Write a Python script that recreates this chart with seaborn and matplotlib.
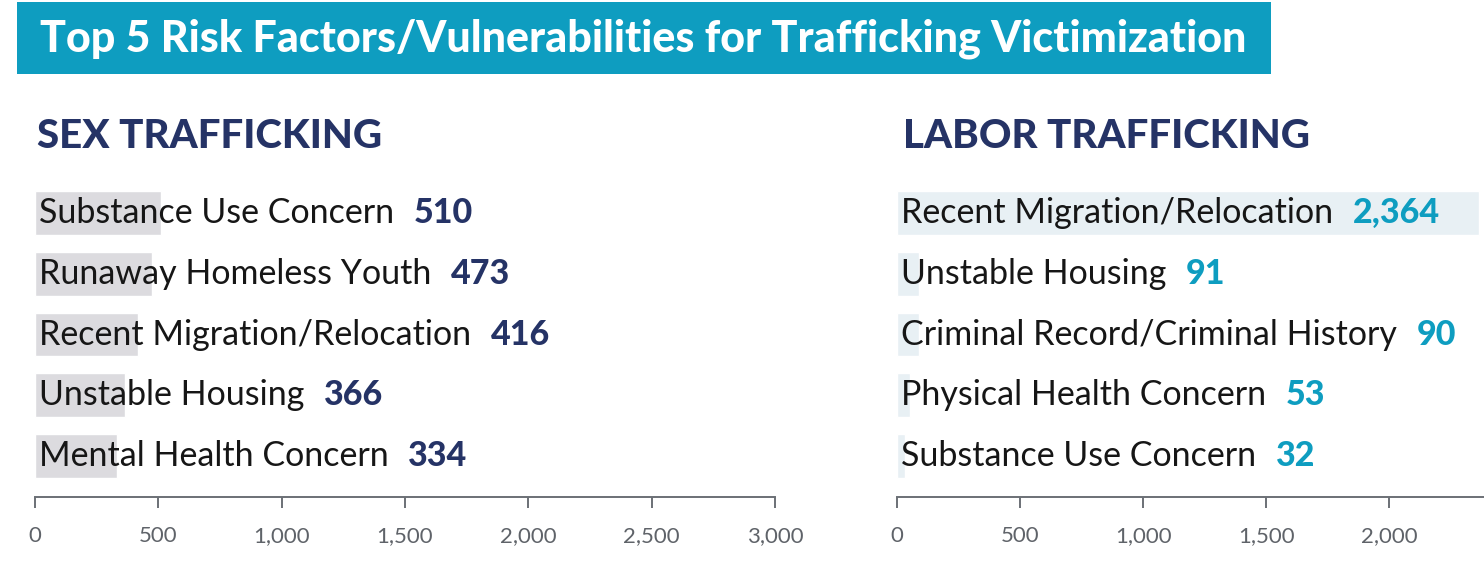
import matplotlib
matplotlib.use("Agg")
import matplotlib.pyplot as plt
import matplotlib.ticker as mticker
from matplotlib.patches import Rectangle
import seaborn as sns
import pandas as pd

# data
sex_factors = ["Substance Use Concern", "Runaway Homeless Youth", "Recent Migration/Relocation",
               "Unstable Housing", "Mental Health Concern"]
sex_counts = [510, 473, 416, 366, 334]
labor_factors = ["Recent Migration/Relocation", "Unstable Housing", "Criminal Record/Criminal History",
                 "Physical Health Concern", "Substance Use Concern"]
labor_counts = [2364, 91, 90, 53, 32]
sex_ticks = [0, 500, 1000, 1500, 2000, 2500, 3000]
labor_ticks = [0, 500, 1000, 1500, 2000]

title = "Top 5 Risk Factors/Vulnerabilities for Trafficking Victimization"

# colours
teal = "#0E9DC0"
navy = "#253366"
grey_bar = "#DCDBDF"
blue_bar = "#E8F0F4"
axis_grey = "#6B7076"

sns.set_theme(style="white")
plt.rcParams['font.family'] = ['Lato', 'DejaVu Sans']

fig = plt.figure(figsize=(14.84, 5.68), dpi=100)

# title banner
fig.patches.append(Rectangle((17 / 1484, 1 - 74 / 568), (1271 - 17) / 1484, 72 / 568,
                             transform=fig.transFigure, facecolor=teal, edgecolor="none"))
fig.text(40 / 1484, 1 - 39 / 568, title, color="white", fontsize=31, fontweight="black",
         va="center", ha="left")

fig.text(37 / 1484, 1 - 137 / 568, "SEX TRAFFICKING", color=navy, fontsize=29,
         fontweight="black", va="center", ha="left")
fig.text(903 / 1484, 1 - 137 / 568, "LABOR TRAFFICKING", color=navy, fontsize=29,
         fontweight="black", va="center", ha="left")

bottom = (568 - 497) / 568
height = (497 - 179) / 568
ax1 = fig.add_axes([35 / 1484, bottom, 740 / 1484, height])
ax2 = fig.add_axes([897 / 1484, bottom, 587 / 1484, height])


def draw_panel(ax, factors, counts, bar_color, num_color, ticks, xmax):
    df = pd.DataFrame({"factor": factors, "count": counts})
    sns.barplot(data=df, x="count", y="factor", ax=ax, color=bar_color, saturation=1,
                width=0.72, orient="h")
    ax.set_xlim(0, xmax)
    ax.set_ylim(4.675, -0.56)
    ax.set_xlabel("")
    ax.set_ylabel("")
    ax.set_yticks([])
    ax.set_xticks(ticks)
    ax.xaxis.set_major_formatter(mticker.FuncFormatter(lambda v, p: f"{int(v):,}"))
    for s in ["top", "right", "left"]:
        ax.spines[s].set_visible(False)
    ax.spines["bottom"].set_color(axis_grey)
    ax.spines["bottom"].set_linewidth(1.4)
    ax.tick_params(axis="x", bottom=True, direction="out", length=8, width=1.4,
                   color=axis_grey, labelcolor="#5F6369", labelsize=16, pad=13)
    ax.patch.set_alpha(0)
    for i, (f, c) in enumerate(zip(factors, counts)):
        t = ax.annotate(f, xy=(0, i), xycoords="data", xytext=(3, 0), textcoords="offset points",
                        fontsize=24.5, color="#161616", va="center", ha="left")
        ax.annotate(f"{c:,}", xy=(1, 0.5), xycoords=t, xytext=(14, 0),
                    textcoords="offset points", fontsize=24.5, fontweight="black",
                    color=num_color, va="center", ha="left")


draw_panel(ax1, sex_factors, sex_counts, grey_bar, navy, sex_ticks, 3000)
draw_panel(ax2, labor_factors, labor_counts, blue_bar, teal, labor_ticks, 2386)
for lbl in ax2.get_xticklabels():
    lbl.set_clip_on(False)

fig.savefig("out.png", dpi=100)
